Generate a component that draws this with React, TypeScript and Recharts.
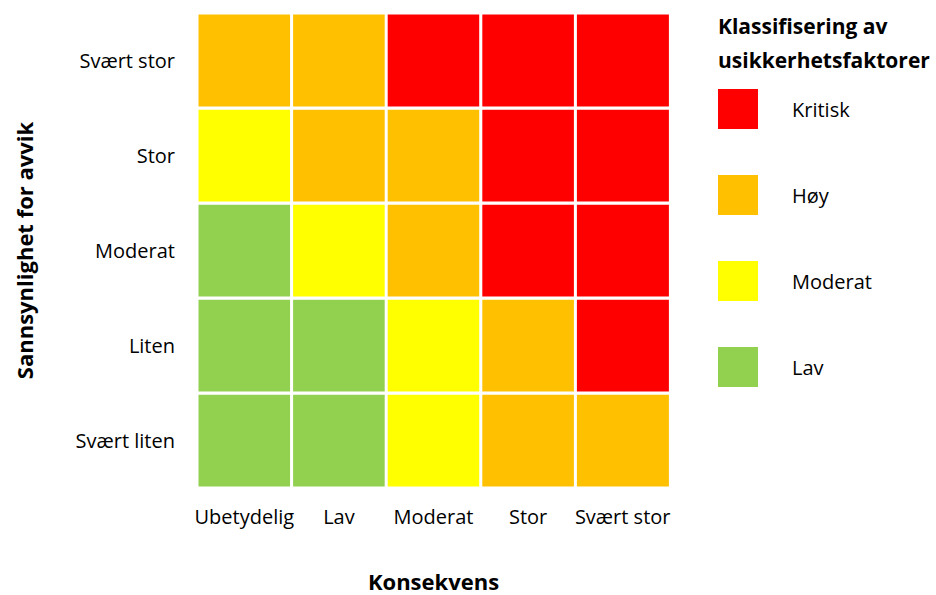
import { Bar, BarChart, Cell, XAxis, YAxis } from 'recharts'

// Konsekvens (x), from left to right
const consequences = ['Ubetydelig', 'Lav', 'Moderat', 'Stor', 'Svært stor']
// Sannsynlighet (y), from bottom to top
const likelihoods = ['Svært liten', 'Liten', 'Moderat', 'Stor', 'Svært stor']

// risk classes, low to high
const classes = ['Lav', 'Moderat', 'Høy', 'Kritisk']
const classColors = ['#92D050', '#FFFF00', '#FFC000', '#FF0000']

// class index per cell, one row per likelihood (bottom to top), one entry per consequence
const matrix = [
  [0, 0, 1, 2, 2],
  [0, 0, 1, 2, 3],
  [0, 1, 2, 3, 3],
  [1, 2, 2, 3, 3],
  [2, 2, 3, 3, 3],
]

// each cell counts as one unit of height in the stack
const data = consequences.map((name) => {
  const row: Record<string, string | number> = { name }
  likelihoods.forEach((_, i) => {
    row[`r${i}`] = 1
  })
  return row
})

const font = '"Open Sans", sans-serif'

export default function App() {
  return (
    <div style={{ position: 'absolute', left: 0, top: 0, width: 936, height: 595, fontFamily: font, background: '#fff' }}>
      <BarChart
        width={936}
        height={595}
        data={data}
        barCategoryGap={0}
        margin={{ top: 13, right: 266, bottom: 0, left: 0 }}
      >
        <XAxis
          dataKey="name"
          height={107}
          axisLine={false}
          tickLine={false}
          tickMargin={16}
          tick={{ fill: '#000', fontSize: 20 }}
          interval={0}
          label={{ value: 'Konsekvens', position: 'insideBottom', offset: 5, fill: '#000', fontSize: 22, fontWeight: 'bold' }}
        />
        <YAxis
          type="number"
          domain={[0, 5]}
          ticks={[0.5, 1.5, 2.5, 3.5, 4.5]}
          tickFormatter={(v: number) => likelihoods[Math.floor(v)]}
          width={197}
          axisLine={false}
          tickLine={false}
          tickMargin={16}
          tick={{ fill: '#000', fontSize: 20 }}
          label={{
            value: 'Sannsynlighet for avvik',
            angle: -90,
            position: 'insideLeft',
            offset: 25,
            fill: '#000',
            fontSize: 22,
            fontWeight: 'bold',
            style: { textAnchor: 'middle' },
          }}
        />
        {likelihoods.map((lk, i) => (
          <Bar key={lk} dataKey={`r${i}`} name={lk} stackId="m" stroke="#fff" strokeWidth={3} isAnimationActive={false}>
            {consequences.map((c, j) => (
              <Cell key={c} fill={classColors[matrix[i][j]]} />
            ))}
          </Bar>
        ))}
      </BarChart>
      <div style={{ position: 'absolute', left: 718, top: 9, color: '#000' }}>
        <div style={{ fontWeight: 'bold', fontSize: 21, lineHeight: '34px', whiteSpace: 'nowrap' }}>
          Klassifisering av
          <br />
          usikkerhetsfaktorer
        </div>
        {[...classes].reverse().map((cl, k) => (
          <div key={cl} style={{ position: 'absolute', left: 0, top: 80 + k * 86, display: 'flex', alignItems: 'center' }}>
            <div style={{ width: 40, height: 40, background: classColors[classes.length - 1 - k] }} />
            <span style={{ marginLeft: 34, fontSize: 20, whiteSpace: 'nowrap' }}>{cl}</span>
          </div>
        ))}
      </div>
    </div>
  )
}
